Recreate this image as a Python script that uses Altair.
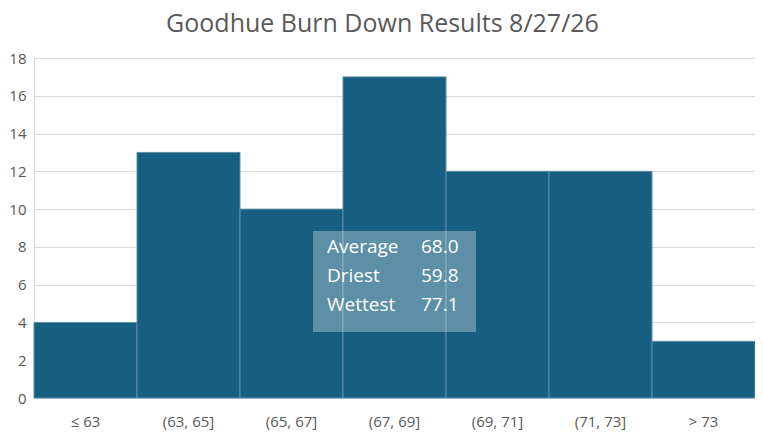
import altair as alt
import pandas as pd

bins = ["≤ 63", "(63, 65]", "(65, 67]", "(67, 69]", "(69, 71]", "(71, 73]", "> 73"]
counts = [4, 13, 10, 17, 12, 12, 3]
stat_labels = ["Average", "Driest", "Wettest"]
stat_values = ["68.0", "59.8", "77.1"]

df = pd.DataFrame({"bin": bins, "count": counts})
stats = pd.DataFrame({"label": stat_labels, "value": stat_values, "row": [0, 1, 2]})
one = pd.DataFrame({"k": [0]})

FONT = "Open Sans"
GRAY = "#595959"

bars = alt.Chart(df).mark_bar(color="#175f80", stroke="#5f8ea8", strokeWidth=1).encode(
    x=alt.X("bin:N", sort=bins, title=None,
            scale=alt.Scale(paddingInner=0, paddingOuter=0),
            axis=alt.Axis(labelAngle=0, labelFontSize=15, labelColor=GRAY, labelFont=FONT,
                          ticks=False, labelPadding=16, domainColor="#d9d9d9", grid=False)),
    y=alt.Y("count:Q", title=None,
            scale=alt.Scale(domain=[0, 18], nice=False),
            axis=alt.Axis(values=list(range(0, 19, 2)), labelFontSize=15, labelColor=GRAY,
                          labelFont=FONT, ticks=False, labelPadding=8,
                          domainColor="#d9d9d9", gridColor="#d9d9d9")),
)

box = alt.Chart(one).mark_rect(color="white", opacity=0.3).encode(
    x=alt.value(279), x2=alt.value(442), y=alt.value(173), y2=alt.value(274)
)

ysc = alt.Scale(domain=[0, 2], range=[189, 247])

labels = alt.Chart(stats).mark_text(align="left", baseline="middle", color="white",
                                    fontSize=19, font=FONT).encode(
    x=alt.value(293), y=alt.Y("row:Q", axis=None, scale=ysc),
    text="label:N")

values = alt.Chart(stats).mark_text(align="left", baseline="middle", color="white",
                                    fontSize=19, font=FONT).encode(
    x=alt.value(387), y=alt.Y("row:Q", axis=None, scale=ysc),
    text="value:N")

chart = alt.layer(bars, box, labels, values).resolve_scale(y="independent").properties(
    width=721, height=340,
    title=alt.TitleParams("Goodhue Burn Down Results 8/27/26", fontSize=25, color=GRAY,
                          font=FONT, fontWeight="normal", offset=14, dx=-12),
    autosize=alt.AutoSizeParams(type="none"),
    padding={"left": 26, "top": 50, "right": 0, "bottom": 33},
).configure_view(stroke=None)

chart.save("out.html", embed_options={"renderer": "svg", "actions": False})
